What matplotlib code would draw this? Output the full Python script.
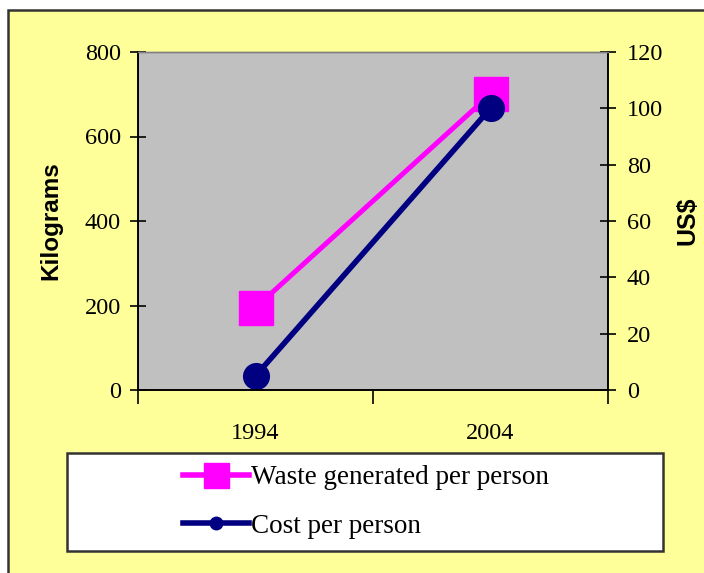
import matplotlib.pyplot as plt
from matplotlib.lines import Line2D
from matplotlib.patches import Rectangle

years = ["1994", "2004"]
waste_kg = [195, 700]
cost_usd = [5, 100]

yellow = "#FFFF99"
pink = "#FF00FF"
navy = "#000080"
serif = "Liberation Serif"
sans = "Liberation Sans"

fig = plt.figure(figsize=(7.04, 5.73), dpi=100)
fig.patch.set_facecolor("white")

# yellow chart area with dark border (runs off the right/bottom edge)
W, H = 704, 573
fig.patches.append(Rectangle((8 / W, -0.02), 1.05, (H - 10) / H + 0.02,
                             transform=fig.transFigure, facecolor=yellow,
                             edgecolor="#333333", lw=1.8, zorder=-2))

ax = fig.add_axes([138 / W, (H - 390) / H, 470 / W, 338 / H])
ax.set_facecolor("#C0C0C0")
ax2 = ax.twinx()

x = [0.5, 1.5]
ax.plot(x, waste_kg, color=pink, lw=3.6, marker="s", markersize=24,
        markerfacecolor=pink, markeredgecolor=pink, solid_capstyle="butt")
ax2.plot(x, cost_usd, color=navy, lw=4, marker="o", markersize=18.5,
         markerfacecolor=navy, markeredgecolor=navy, solid_capstyle="butt")

ax.set_xlim(0, 2)
ax.set_ylim(0, 800)
ax2.set_ylim(0, 120)
ax.set_yticks([0, 200, 400, 600, 800])
ax2.set_yticks([0, 20, 40, 60, 80, 100, 120])

ax.set_xticks([0, 1, 2])
ax.set_xticklabels([])
ax.set_xticks(x, minor=True)
ax.set_xticklabels(years, minor=True, fontfamily=serif, fontsize=17.5)
ax.tick_params(axis="x", which="major", direction="out", length=10, width=1.2)
ax.tick_params(axis="x", which="minor", length=0, pad=24)
ax.tick_params(axis="y", direction="inout", length=11, width=1.2, pad=7)
ax2.tick_params(axis="y", direction="inout", length=11, width=1.2, pad=8)
for lab in ax.get_yticklabels() + ax2.get_yticklabels():
    lab.set_fontfamily(serif)
    lab.set_fontsize(17.5)

for a in (ax, ax2):
    a.spines["top"].set_color("#808080")
    a.spines["top"].set_linewidth(1)
    for s in ("left", "right", "bottom"):
        a.spines[s].set_color("black")
        a.spines[s].set_linewidth(1.2)

ax.set_ylabel("Kilograms", fontfamily=sans, fontweight="bold", fontsize=17.5)
ax.yaxis.set_label_coords(-0.16, 0.5)
ax2.set_ylabel("US$", fontfamily=sans, fontweight="bold", fontsize=18,
               rotation=90)
ax2.yaxis.set_label_coords(1.143, 0.5)

# legend box
fig.patches.append(Rectangle((67 / W, (H - 551) / H), (663 - 67) / W, 98 / H,
                             transform=fig.transFigure, facecolor="white",
                             edgecolor="#333333", lw=1.8, zorder=-1))
handles = [
    Line2D([], [], color=pink, lw=4, marker="s", markersize=18,
           markerfacecolor=pink, markeredgecolor=pink),
    Line2D([], [], color=navy, lw=4, marker="o", markersize=9,
           markerfacecolor=navy, markeredgecolor=navy),
]
leg = fig.legend(handles, ["Waste generated per person", "Cost per person"],
                 loc="center left", bbox_to_anchor=(172 / W, (H - 502) / H),
                 frameon=False, handlelength=2.45, handletextpad=0.05,
                 labelspacing=0.85, borderaxespad=0,
                 prop={"family": serif, "size": 19.5})

fig.savefig("out.png", dpi=100)
